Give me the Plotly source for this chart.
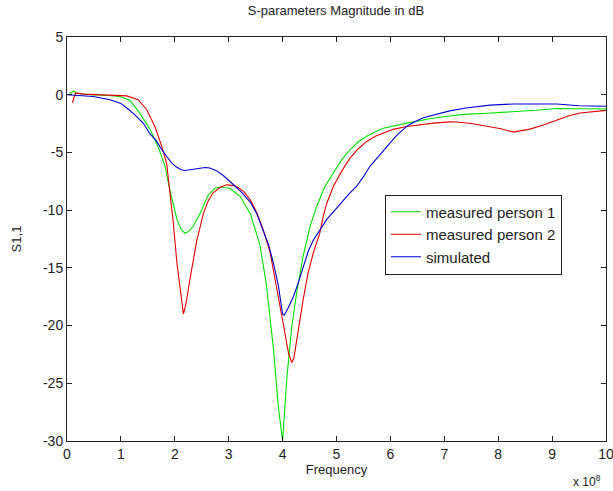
import plotly.graph_objects as go

# Frequency in units of 1e8 Hz, S11 in dB
freq_p1 = [0.05, 0.12, 0.2, 0.43, 0.7, 0.98, 1.17, 1.35, 1.54, 1.69, 1.82, 1.91, 2.04, 2.12, 2.19, 2.27,
           2.34, 2.47, 2.62, 2.75, 2.84, 3.02, 3.21, 3.4, 3.58, 3.7, 3.83, 3.92, 4.0, 4.08, 4.17, 4.26,
           4.38, 4.51, 4.63, 4.78, 4.94, 5.1, 5.25, 5.4, 5.56, 5.72, 5.87, 6.05, 6.3, 6.5, 6.7, 7.1,
           7.35, 7.8, 8.28, 8.7, 9.09, 9.5, 10.0]
s11_p1 = [0.1, 0.3, 0.1, 0.0, -0.05, -0.15, -0.5, -1.6, -3.0, -4.5, -6.2, -8.3, -10.8, -11.7, -12.0, -11.8,
          -11.4, -10.3, -8.7, -8.1, -8.0, -8.1, -8.8, -10.3, -13.0, -16.5, -22.0, -27.0, -30.0, -24.5, -20.1, -17.2,
          -14.0, -11.4, -9.7, -8.0, -6.8, -5.6, -4.77, -4.1, -3.6, -3.2, -2.9, -2.7, -2.46, -2.3, -2.1, -1.85,
          -1.7, -1.6, -1.5, -1.35, -1.2, -1.2, -1.24]

freq_p2 = [0.1, 0.13, 0.16, 0.3, 0.49, 0.8, 1.11, 1.32, 1.48, 1.63, 1.76, 1.85, 1.91, 1.97, 2.04, 2.1,
           2.16, 2.22, 2.28, 2.41, 2.53, 2.62, 2.71, 2.85, 2.96, 3.05, 3.15, 3.28, 3.4, 3.52, 3.64, 3.77,
           3.89, 4.01, 4.11, 4.17, 4.21, 4.26, 4.38, 4.47, 4.57, 4.69, 4.76, 4.82, 4.94, 5.1, 5.25, 5.4,
           5.56, 5.72, 5.87, 6.05, 6.3, 6.55, 6.8, 7.1, 7.23, 7.5, 7.85, 8.05, 8.28, 8.45, 8.59, 8.85,
           9.09, 9.3, 9.52, 9.75, 10.0]
s11_p2 = [-0.7, -0.2, 0.15, 0.05, 0.0, -0.05, -0.1, -0.43, -1.3, -2.75, -4.5, -6.0, -8.5, -11.0, -14.6, -17.0,
          -19.0, -17.8, -16.0, -12.6, -10.3, -9.2, -8.5, -8.0, -7.8, -7.85, -7.95, -8.4, -9.1, -10.2, -11.7, -13.7,
          -16.6, -19.8, -22.4, -23.2, -22.8, -21.2, -17.8, -15.5, -13.7, -12.0, -10.4, -9.4, -7.95, -6.6, -5.5, -4.7,
          -4.05, -3.6, -3.3, -3.0, -2.75, -2.6, -2.46, -2.35, -2.37, -2.5, -2.75, -2.95, -3.24, -3.1, -2.98, -2.6,
          -2.17, -1.85, -1.59, -1.45, -1.36]

freq_sim = [0.0, 0.2, 0.49, 0.8, 1.0, 1.11, 1.25, 1.42, 1.54, 1.66, 1.75, 1.85, 1.94, 2.03, 2.12, 2.19,
            2.3, 2.47, 2.56, 2.65, 2.78, 2.9, 3.0, 3.09, 3.25, 3.4, 3.52, 3.64, 3.74, 3.83, 3.92, 4.0,
            4.03, 4.1, 4.2, 4.29, 4.38, 4.48, 4.57, 4.7, 4.82, 4.97, 5.13, 5.25, 5.37, 5.5, 5.62, 5.78,
            5.93, 6.1, 6.3, 6.45, 6.61, 6.85, 7.1, 7.4, 7.85, 8.28, 8.7, 9.09, 9.5, 10.0]
s11_sim = [0.0, -0.05, -0.15, -0.43, -0.75, -1.15, -1.7, -2.5, -3.4, -4.0, -4.7, -5.35, -5.9, -6.27, -6.5, -6.56,
           -6.5, -6.4, -6.3, -6.35, -6.6, -7.0, -7.4, -7.8, -8.5, -9.3, -10.3, -11.7, -13.0, -14.6, -16.5, -19.0,
           -19.1, -18.5, -17.5, -16.3, -14.9, -13.5, -12.6, -11.6, -10.8, -10.0, -9.1, -8.5, -7.95, -7.1, -6.2, -5.3,
           -4.5, -3.6, -2.75, -2.35, -2.0, -1.7, -1.4, -1.15, -0.9, -0.8, -0.8, -0.8, -0.95, -1.0]

series_names = ["measured person 1", "measured person 2", "simulated"]
x_ticks = list(range(0, 11))
y_ticks = [5, 0, -5, -10, -15, -20, -25, -30]

FONT = "Liberation Sans, Arial, sans-serif"

fig = go.Figure()
fig.add_trace(go.Scatter(x=freq_p1, y=s11_p1, mode="lines", name=series_names[0],
                         line=dict(color="#00e000", width=1.1)))
fig.add_trace(go.Scatter(x=freq_p2, y=s11_p2, mode="lines", name=series_names[1],
                         line=dict(color="#e00000", width=1.1)))
fig.add_trace(go.Scatter(x=freq_sim, y=s11_sim, mode="lines", name=series_names[2],
                         line=dict(color="#0000d0", width=1.1)))

axis_common = dict(showgrid=False, zeroline=False, showline=True, linecolor="#222",
                   linewidth=1, mirror="ticks", ticks="inside", ticklen=5, tickcolor="#222",
                   ticklabeloverflow="allow", automargin=False,
                   tickfont=dict(family=FONT, size=14, color="#222"))

fig.update_xaxes(range=[0, 10], tickvals=x_ticks, ticktext=[str(t) for t in x_ticks],
                 title=dict(text="Frequency", font=dict(family=FONT, size=13, color="#222"), standoff=4),
                 **axis_common)
fig.update_yaxes(range=[-30, 5], tickvals=y_ticks, ticktext=[str(t) for t in y_ticks],
                 title=dict(text="S1,1", font=dict(family=FONT, size=13, color="#222"), standoff=18),
                 **axis_common)

fig.update_layout(
    width=613, height=491,
    margin=dict(l=67, r=7, t=37, b=50),
    paper_bgcolor="white", plot_bgcolor="white",
    title=dict(text="S-parameters Magnitude in dB", x=0.548, xanchor="center", y=0.988, yanchor="top",
               font=dict(family=FONT, size=13, color="#222")),
    legend=dict(x=0.59, y=0.61, xanchor="left", yanchor="top", bgcolor="white",
                bordercolor="#222", borderwidth=1,
                font=dict(family=FONT, size=15, color="#222"), tracegroupgap=0),
    showlegend=True,
)

fig.add_annotation(text="x 10<sup>8</sup>", xref="paper", yref="paper", x=0.995, y=-0.075,
                   xanchor="right", yanchor="top", showarrow=False,
                   font=dict(family=FONT, size=12, color="#222"))

fig.write_html("out.html")
